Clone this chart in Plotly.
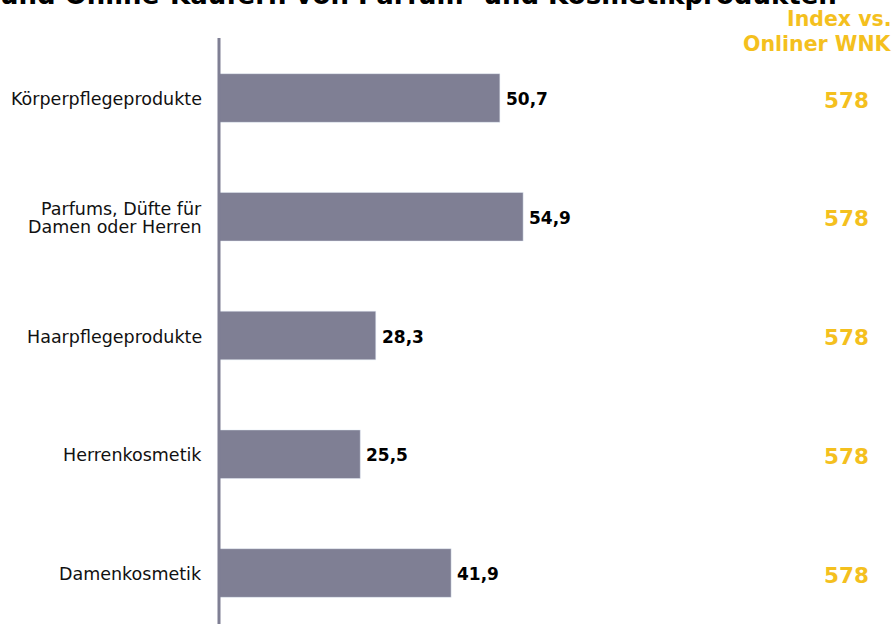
import plotly.graph_objects as go

categories = ["Körperpflegeprodukte", "Parfums, Düfte für<br>Damen oder Herren",
              "Haarpflegeprodukte", "Herrenkosmetik", "Damenkosmetik"]
values = [50.7, 54.9, 28.3, 25.5, 41.9]
value_labels = ["50,7", "54,9", "28,3", "25,5", "41,9"]
index_values = ["578", "578", "578", "578", "578"]
title_text = "und Online-Käufern von Parfum- und Kosmetikprodukten"
index_header = ["Index vs.", "Onliner WNK"]

BAR = "#7F7F94"
YEL = "#F4C01E"
FONT = "DejaVu Sans"

W, H = 893, 624
L, T = 219, 38
ppu = 5.54
xmax = (W - L) / ppu


def py(p):
    return 1 - (p - T) / (H - T)


ypos = list(range(len(categories)))

fig = go.Figure()
fig.add_trace(go.Bar(x=values, y=ypos, orientation="h", marker_color=BAR,
                     width=0.41, hoverinfo="skip"))

ann = []
for i, (c, v, vl, iv) in enumerate(zip(categories, values, value_labels, index_values)):
    lines = c.split("<br>")
    n = len(lines)
    for j, ln in enumerate(lines):
        ann.append(dict(x=0, y=i, xref="x", yref="y", text=ln, showarrow=False,
                        xanchor="right", yanchor="middle", xshift=-15,
                        yshift=(7.5 - j * 18) if n > 1 else -1,
                        font=dict(family=FONT, size=17.5, color="#111")))
    ann.append(dict(x=v, y=i, xref="x", yref="y", text="<b>" + vl + "</b>", showarrow=False,
                    xanchor="left", yanchor="middle", xshift=4, yshift=-1,
                    font=dict(family=FONT, size=17, color="#000")))
    ann.append(dict(x=(846 - L) / ppu, y=i, xref="x", yref="y", text="<b>" + iv + "</b>",
                    showarrow=False, xanchor="center", yanchor="middle", yshift=-2,
                    font=dict(family=FONT, size=21.5, color=YEL)))

for txt, p in zip(index_header, [19, 44]):
    ann.append(dict(x=1, y=py(p), xref="paper", yref="paper",
                    text="<b>" + txt + "</b>", showarrow=False,
                    xanchor="right", yanchor="middle", xshift=1,
                    font=dict(family=FONT, size=20.5, color=YEL)))
ann.append(dict(x=(418 - L) / (W - L), y=py(12), xref="paper", yref="paper",
                text="<b>" + title_text + "</b>", showarrow=False,
                xanchor="center", yanchor="bottom",
                font=dict(family=FONT, size=26, color="#000")))

fig.add_shape(type="line", x0=0, x1=0, xref="paper", y0=0, y1=1, yref="paper",
              line=dict(color=BAR, width=3))

fig.update_layout(
    width=W, height=H,
    margin=dict(l=L, r=0, t=T, b=0),
    plot_bgcolor="white", paper_bgcolor="white",
    showlegend=False,
    xaxis=dict(range=[0, xmax], visible=False, fixedrange=True),
    yaxis=dict(range=[4 + (H - 573) / 118.75, -(98 - T) / 118.75], visible=False,
               fixedrange=True),
    annotations=ann,
)

fig.write_html("out.html", config={"displayModeBar": False})
